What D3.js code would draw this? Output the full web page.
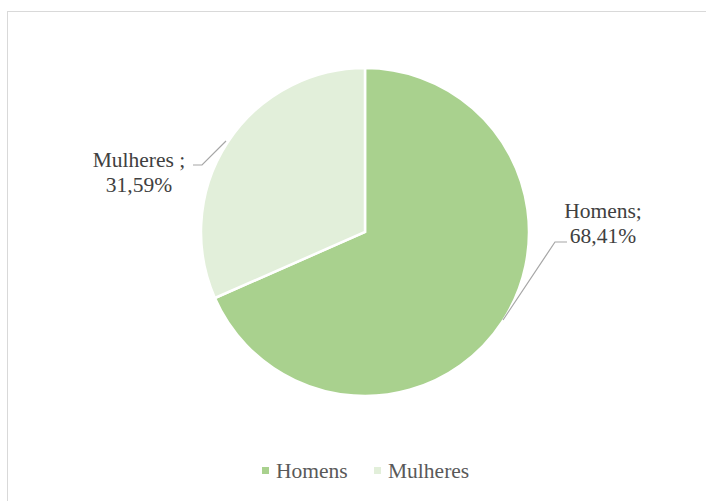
<!DOCTYPE html>
<html><head><meta charset="utf-8">
<script src="https://cdn.jsdelivr.net/npm/d3@7"></script>
<style>body{margin:0;background:#fff}svg{display:block}text{font-family:"Liberation Serif","Times New Roman",serif}</style>
</head><body>
<svg id="c" width="706" height="501"></svg>
<script>
const categories = ["Homens", "Mulheres"];
const values = [68.41, 31.59];
const labelTexts = ["Homens;", "Mulheres ;"];
const colors = ["#A9D18E", "#E2EFDA"];

const svg = d3.select("#c");
svg.append("rect").attr("x",7.5).attr("y",11.5).attr("width",720).attr("height",520)
  .attr("fill","#fff").attr("stroke","#d9d9d9").attr("stroke-width",1);

const cx = 365, cy = 232, r = 164;
const pie = d3.pie().sort(null).value(d=>d)(values);
const arc = d3.arc().innerRadius(0).outerRadius(r);
const g = svg.append("g").attr("transform",`translate(${cx},${cy})`);
g.selectAll("path").data(pie).join("path")
  .attr("d",arc).attr("fill",(d,i)=>colors[i])
  .attr("stroke","#fff").attr("stroke-width",2.5).attr("stroke-linejoin","miter");

const fmt = v => v.toFixed(2).replace(".",",") + "%";

const leaders = [
  [[567,242],[555,242],[503,320]],
  [[193,165],[202,165],[226,141]]
];
const line = d3.line();
svg.selectAll("path.lead").data(leaders).join("path").attr("class","lead")
  .attr("d",line).attr("fill","none").attr("stroke","#a6a6a6").attr("stroke-width",1.2);

const labelPos = [{x:603,y:218},{x:139,y:167}];
pie.forEach((d,i)=>{
  const t = svg.append("text").attr("x",labelPos[i].x).attr("y",labelPos[i].y)
    .attr("text-anchor","middle").attr("font-size",21.5).attr("fill","#404040");
  t.append("tspan").attr("x",labelPos[i].x).text(labelTexts[i]);
  t.append("tspan").attr("x",labelPos[i].x).attr("dy",24.5).text(fmt(values[i]));
});

const legX = [262, 374];
categories.forEach((c,i)=>{
  svg.append("rect").attr("x",legX[i]).attr("y",467).attr("width",7).attr("height",7).attr("fill",colors[i]);
  svg.append("text").attr("x",legX[i]+14).attr("y",478)
    .attr("font-size",21.5).attr("fill","#595959").text(c);
});
</script>
</body></html>
